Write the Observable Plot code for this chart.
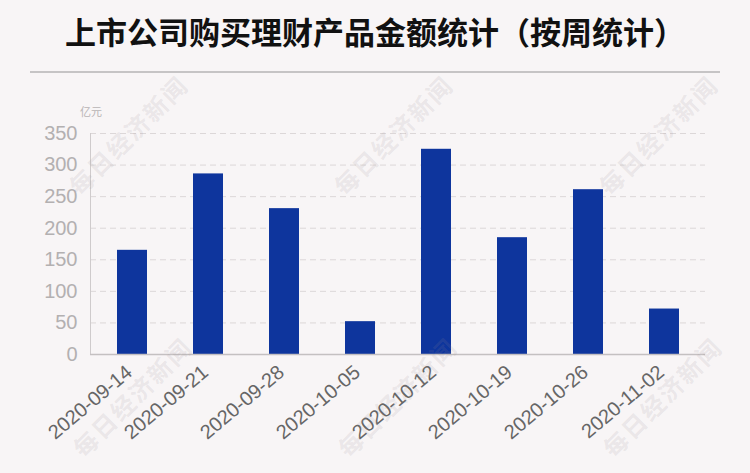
<!DOCTYPE html>
<html><head><meta charset="utf-8">
<script src="https://cdn.jsdelivr.net/npm/d3@7"></script>
<script src="https://cdn.jsdelivr.net/npm/@observablehq/plot@0.6"></script>
<style>
html,body{margin:0;padding:0;background:#f8f5f6;}
#wrap{position:relative;width:750px;height:473px;overflow:hidden;background:#f8f5f6;}
#title{position:absolute;left:0;top:14px;width:750px;text-align:center;font-family:"Noto Sans CJK SC",sans-serif;font-weight:bold;font-size:31px;line-height:34px;color:#111;}
#hr{position:absolute;left:30px;top:71px;width:690px;height:2px;background:#c6c4c5;}
#unit{position:absolute;left:80px;top:104px;font-family:"Noto Sans CJK SC",sans-serif;font-size:11px;line-height:14px;color:#b8b4b5;}
#chart{position:absolute;left:0;top:0;}
.wm{position:absolute;font-family:"Noto Sans CJK SC",sans-serif;font-weight:bold;font-size:24px;line-height:26px;color:rgba(150,140,142,0.15);white-space:nowrap;transform:translate(-50%,-50%) rotate(-45deg);letter-spacing:2px;pointer-events:none;}
</style></head>
<body><div id="wrap">
<div id="title">上市公司购买理财产品金额统计（按周统计）</div>
<div id="hr"></div>
<div id="unit">亿元</div>
<div id="chart"></div>
</div>
<script>
const dates = ["2020-09-14","2020-09-21","2020-09-28","2020-10-05","2020-10-12","2020-10-19","2020-10-26","2020-11-02"];
const amounts = [165, 286, 231, 52, 325, 185, 261, 72];
const yTicks = [0, 50, 100, 150, 200, 250, 300, 350];
const watermarkText = "每日经济新闻";

const data = dates.map((d, i) => ({date: d, value: amounts[i]}));

const chart = Plot.plot({
  width: 750, height: 473,
  marginTop: 133, marginBottom: 119, marginLeft: 90, marginRight: 45,
  style: {background: "transparent", fontFamily: "'Liberation Sans', Arial, sans-serif"},
  x: {domain: dates, paddingInner: 0.61, paddingOuter: 0.305, align: 0.5},
  y: {domain: [0, 350]},
  marks: [
    Plot.gridY(yTicks.filter(d => d > 0), {stroke: "#dcd7d8", strokeOpacity: 1, strokeDasharray: "6,4"}),
    Plot.barY(data, {x: "date", y: "value", fill: "#0e359d"}),
    Plot.frame({anchor: "left", stroke: "#cfcbcc"}),
    Plot.ruleY([0], {stroke: "#c4c0c1", strokeWidth: 1.5}),
    Plot.axisY({ticks: yTicks, tickSize: 0, tickPadding: 13, fontSize: 20, color: "#b3b0b1", label: null}),
    Plot.axisX({tickSize: 0, tickPadding: 15, dx: -3, tickRotate: -40, fontSize: 20, color: "#666", label: null})
  ]
});
document.getElementById("chart").appendChild(chart);

const wrap = document.getElementById("wrap");
[[128,135],[393,135],[658,135],[132,397],[397,397],[662,397]].forEach(([x,y]) => {
  const el = document.createElement("div");
  el.className = "wm";
  el.textContent = watermarkText;
  el.style.left = x + "px";
  el.style.top = y + "px";
  wrap.appendChild(el);
});
</script>
</body></html>
